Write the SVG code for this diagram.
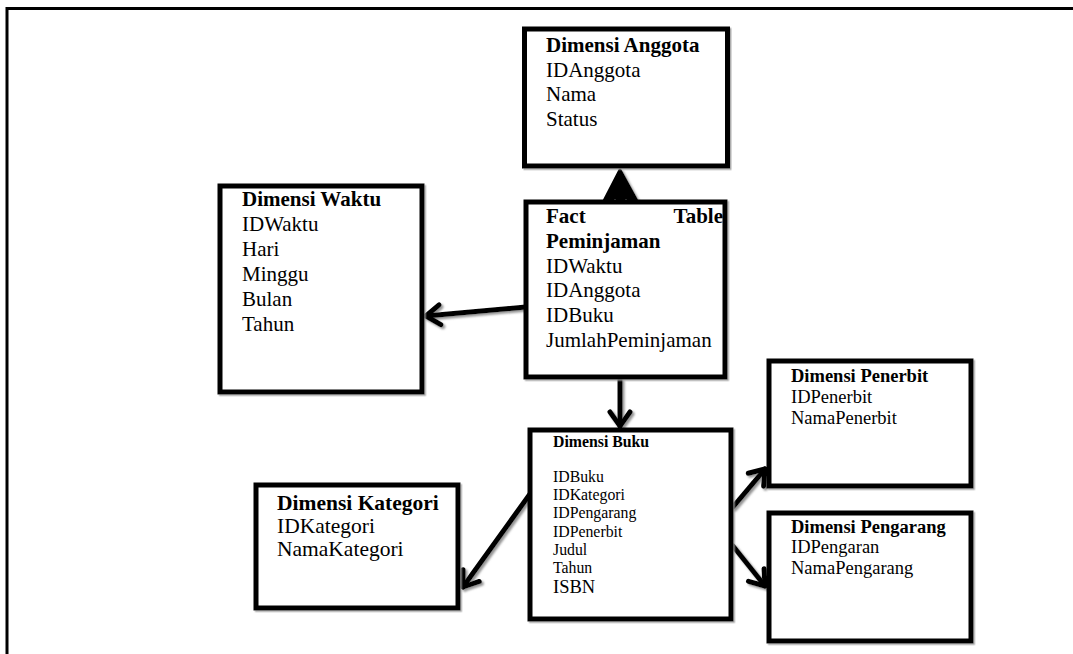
<svg xmlns="http://www.w3.org/2000/svg" width="1073" height="654" viewBox="0 0 1073 654">
<style>
.box{fill:#fff;stroke:#000;stroke-width:5}
.t{font-family:"Liberation Serif","Times New Roman",serif;fill:#000}
.b{font-weight:bold}
.l{font-size:21px}
.m{font-size:18.5px}
.s{font-size:15.8px}
.k{font-size:21.5px}
.con{fill:none;stroke:#000;stroke-width:5;stroke-linecap:round;stroke-linejoin:round}
</style>
<defs>
<filter id="sh" x="-20%" y="-20%" width="140%" height="140%">
<feDropShadow dx="2" dy="2" stdDeviation="0.8" flood-color="#888" flood-opacity="0.9"/>
</filter>
<filter id="bsh" x="-5%" y="-5%" width="110%" height="110%">
<feDropShadow dx="1.5" dy="1.5" stdDeviation="0.3" flood-color="#999" flood-opacity="0.8"/>
</filter>
<marker id="arr" viewBox="-20 -14 24 28" markerWidth="24" markerHeight="28" refX="0" refY="0" orient="auto" markerUnits="userSpaceOnUse">
<path d="M -14 -10 L 0 0 L -14 10" fill="none" stroke="#000" stroke-width="5" stroke-linecap="round" stroke-linejoin="round"/>
</marker>
</defs>
<rect width="1073" height="654" fill="#fff"/>
<path d="M 7 654 L 7 8.5 L 1073 8.5" fill="none" stroke="#000" stroke-width="3"/>

<g id="connectors" filter="url(#sh)">
<path class="con" d="M 526 307 L 426 316" marker-end="url(#arr)"/>
<path class="con" d="M 620 380 L 620 426" marker-end="url(#arr)"/>
<path class="con" d="M 530 494 L 463 587" marker-end="url(#arr)"/>
<path class="con" d="M 733 507 L 765 469" marker-end="url(#arr)"/>
<path class="con" d="M 733 546 L 765 586" marker-end="url(#arr)"/>
<path d="M 620 170 L 604 201 L 612 201 L 615 196 L 618 201 L 623 201 L 626 196 L 629 201 L 637 201 Z" fill="#000" stroke="#000" stroke-width="3" stroke-linejoin="round"/>
</g>

<g id="anggota">
<rect class="box" x="524.5" y="29" width="203" height="137" filter="url(#bsh)"/>
<text class="t b l" x="546" y="52">Dimensi Anggota</text>
<text class="t l" x="546" y="77">IDAnggota</text>
<text class="t l" x="546" y="101">Nama</text>
<text class="t l" x="546" y="126">Status</text>
</g>

<g id="fact">
<rect class="box" x="526" y="202" width="199" height="175" filter="url(#bsh)"/>
<text class="t b l" x="546" y="223">Fact</text>
<text class="t b l" x="723" y="223" text-anchor="end">Table</text>
<text class="t b l" x="546" y="248">Peminjaman</text>
<text class="t l" x="546" y="273">IDWaktu</text>
<text class="t l" x="546" y="297">IDAnggota</text>
<text class="t l" x="546" y="322">IDBuku</text>
<text class="t l" x="546" y="347">JumlahPeminjaman</text>
</g>

<g id="waktu">
<rect class="box" x="220" y="186" width="202" height="206" filter="url(#bsh)"/>
<text class="t b l" x="242" y="206">Dimensi Waktu</text>
<text class="t l" x="242" y="231">IDWaktu</text>
<text class="t l" x="242" y="256">Hari</text>
<text class="t l" x="242" y="281">Minggu</text>
<text class="t l" x="242" y="306">Bulan</text>
<text class="t l" x="242" y="331">Tahun</text>
</g>

<g id="buku">
<rect class="box" x="530" y="430" width="201" height="189" filter="url(#bsh)"/>
<text class="t b s" x="553" y="447">Dimensi Buku</text>
<text class="t s" x="553" y="482">IDBuku</text>
<text class="t s" x="553" y="500">IDKategori</text>
<text class="t s" x="553" y="518">IDPengarang</text>
<text class="t s" x="553" y="537">IDPenerbit</text>
<text class="t s" x="553" y="555">Judul</text>
<text class="t s" x="553" y="573">Tahun</text>
<text class="t m" x="553" y="593">ISBN</text>
</g>

<g id="kategori">
<rect class="box" x="256" y="485" width="202" height="123" filter="url(#bsh)"/>
<text class="t b k" x="277" y="510">Dimensi Kategori</text>
<text class="t k" x="277" y="533">IDKategori</text>
<text class="t k" x="277" y="556">NamaKategori</text>
</g>

<g id="penerbit">
<rect class="box" x="769" y="361" width="202" height="125" filter="url(#bsh)"/>
<text class="t b m" x="791" y="382">Dimensi Penerbit</text>
<text class="t m" x="791" y="403">IDPenerbit</text>
<text class="t m" x="791" y="424">NamaPenerbit</text>
</g>

<g id="pengarang">
<rect class="box" x="769" y="513" width="202" height="128" filter="url(#bsh)"/>
<text class="t b m" x="791" y="533">Dimensi Pengarang</text>
<text class="t m" x="791" y="553">IDPengaran</text>
<text class="t m" x="791" y="574">NamaPengarang</text>
</g>
</svg>
